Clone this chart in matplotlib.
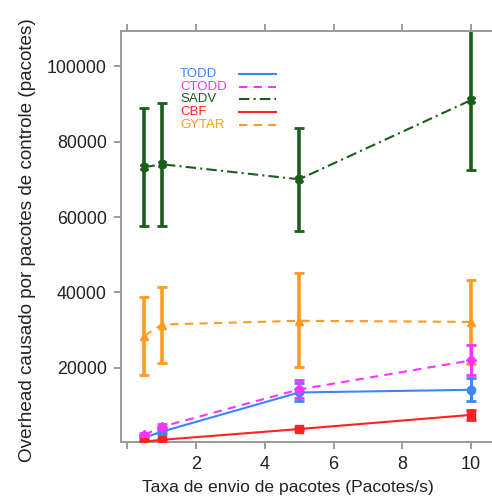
import matplotlib.pyplot as plt
from matplotlib.lines import Line2D

plt.rcParams['font.family'] = ['Liberation Sans', 'DejaVu Sans']

# %% data
rates = [0.5, 1, 5, 10]

names = ['TODD', 'CTODD', 'SADV', 'CBF', 'GYTAR']
colors = ['#3a86ff', '#ff33ff', '#1b5e1b', '#ff2222', '#ff9a22']
styles = ['-', (0, (4, 3)), (0, (5, 2, 1, 2)), '-', (0, (4, 3))]
markers = ['o', 'D', 'X', 's', '^']

todd = [1500, 3100, 13500, 14200]
todd_lo = [1000, 2500, 11300, 11300]
todd_hi = [2000, 3800, 16000, 17200]

ctodd = [2250, 4400, 14300, 22000]
ctodd_lo = [1700, 3600, 11900, 18100]
ctodd_hi = [2800, 5200, 16800, 26100]

sadv = [73200, 74000, 70000, 91000]
sadv_lo = [57600, 57600, 56300, 72400]
sadv_hi = [88900, 90200, 83600, 110000]

cbf = [480, 930, 3800, 7550]
cbf_lo = [300, 700, 3500, 6200]
cbf_hi = [650, 1150, 4200, 8900]

gytar = [28500, 31500, 32500, 32200]
gytar_lo = [18100, 21400, 20300, 21100]
gytar_hi = [38800, 41500, 45200, 43300]

series = [(todd, todd_lo, todd_hi), (ctodd, ctodd_lo, ctodd_hi), (sadv, sadv_lo, sadv_hi),
          (cbf, cbf_lo, cbf_hi), (gytar, gytar_lo, gytar_hi)]

# %% plot
fig = plt.figure(figsize=(4.92, 5.03), dpi=100)
ax = fig.add_axes([0.2453, 0.1219, 0.7547, 0.8171])

draw_order = [4, 2, 0, 1, 3]
for i in draw_order:
    y, lo, hi = series[i]
    err = [[v - l for v, l in zip(y, lo)], [h - v for v, h in zip(y, hi)]]
    lw = 2.6 if i in (2, 4) else 2.2
    ax.errorbar(rates, y, yerr=err, fmt='none', ecolor=colors[i], elinewidth=lw,
                capsize=3.5, capthick=2, zorder=2)
    ax.plot(rates, y, color=colors[i], linestyle=styles[i], linewidth=1.5,
            marker=markers[i], markersize=6 if i != 1 else 5.5, zorder=3)

ax.set_xlim(-0.19, 10.61)
ax.set_ylim(450, 109400)
ax.set_xticks([0, 2, 4, 6, 8, 10])
ax.set_xticklabels(['', '2', '4', '6', '8', '10'])
ax.set_yticks([20000, 40000, 60000, 80000, 100000])

for side in ['left', 'top', 'bottom']:
    ax.spines[side].set_color('#9a9a9a')
    ax.spines[side].set_linewidth(1.4)
ax.spines['right'].set_visible(False)
ax.tick_params(axis='both', colors='#8a8a8a', width=1.2, length=5,
               labelcolor='#222222')
ax.tick_params(axis='x', top=True, labelsize=13, pad=5)
ax.tick_params(axis='y', labelsize=12.8, pad=5)

ax.set_xlabel('Taxa de envio de pacotes (Pacotes/s)', fontsize=12.6, color='#222222')
ax.xaxis.set_label_coords(0.45, -0.094)
ax.set_ylabel('Overhead causado por pacotes de controle (pacotes)', fontsize=13.6,
              color='#222222')
ax.yaxis.set_label_coords(-0.228, 0.49)

# legend: coloured names, line sample on the right
x_txt, x_l0, x_l1 = 180 / 492, 239 / 492, 276 / 492
for k, name in enumerate(names):
    yy = 1 - (74 + 12.7 * k) / 503
    fig.text(x_txt, yy, name, color=colors[k], fontsize=9.5, va='center', ha='left')
    fig.add_artist(Line2D([x_l0, x_l1], [yy, yy], transform=fig.transFigure,
                          color=colors[k], linestyle=styles[k], linewidth=1.5))

fig.savefig('out.png', dpi=100)
